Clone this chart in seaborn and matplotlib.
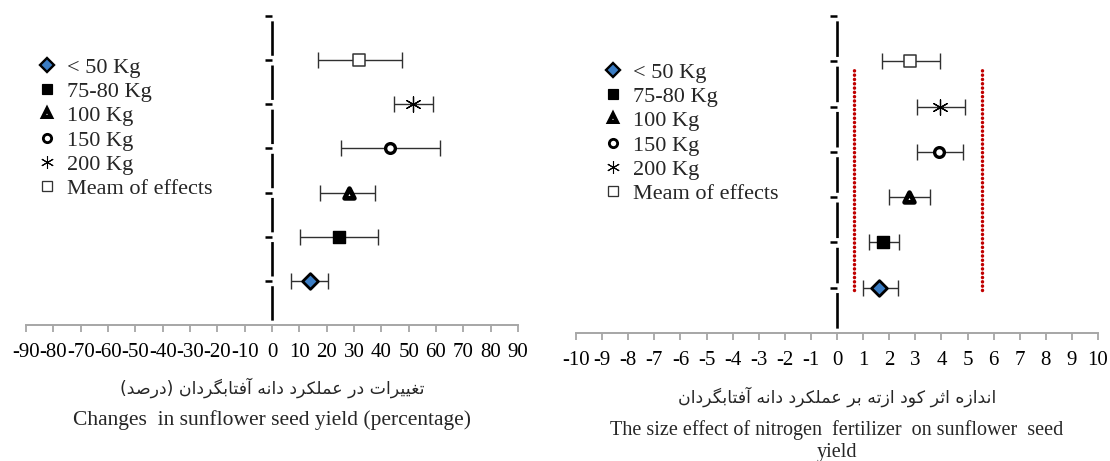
import matplotlib
matplotlib.use('Agg')
import matplotlib.pyplot as plt
from matplotlib.lines import Line2D
import pandas as pd
import seaborn as sns

# categories (bottom to top) and their row on the y axis
groups = ['< 50 Kg', '75-80 Kg', '100 Kg', '150 Kg', '200 Kg', 'Meam of effects']
rows = [1, 2, 3, 4, 5, 6]

# left panel: change in seed yield (%)
pct_mean = [13.9, 24.4, 28.0, 43.0, 51.5, 31.9]
pct_low = [7.1, 10.1, 17.7, 25.2, 44.7, 16.9]
pct_high = [20.5, 38.9, 37.8, 61.5, 58.8, 47.4]
pct_ticks = list(range(-90, 91, 10))

# right panel: effect size of nitrogen fertilizer
eff_mean = [1.62, 1.78, 2.74, 3.90, 3.96, 2.80]
eff_low = [0.99, 1.24, 1.98, 3.05, 3.05, 1.72]
eff_high = [2.33, 2.37, 3.55, 4.83, 4.92, 3.93]
eff_limits = [0.65, 5.55]
eff_limit_span = [0.96, 5.86]
eff_ticks = list(range(-10, 11))

left_fa = 'تغییرات در عملکرد دانه آفتابگردان (درصد)'
left_en = 'Changes  in sunflower seed yield (percentage)'
right_fa = 'اندازه اثر کود ازته بر عملکرد دانه آفتابگردان'
right_en = 'The size effect of nitrogen  fertilizer  on sunflower  seed\nyield'

# marker look per group
styles = {
    '< 50 Kg': dict(marker='D', size=8.0, face='#3b7dc4', edge='black', ew=2.0),
    '75-80 Kg': dict(marker='s', size=8.0, face='black', edge='black', ew=1.0),
    '100 Kg': dict(marker='^', size=7.0, face='white', edge='black', ew=3.4),
    '150 Kg': dict(marker='o', size=7.0, face='white', edge='black', ew=2.4),
    '200 Kg': dict(marker=(6, 2, 0), size=11.0, face='black', edge='black', ew=0.9),
    'Meam of effects': dict(marker='s', size=8.5, face='white', edge='#333333', ew=1.1),
}

# simple Persian shaping (matplotlib draws text left to right without joining)
FORMS = {
    'ا': ('\uFE8D', '\uFE8E', None, None), 'آ': ('\uFE81', '\uFE82', None, None),
    'ب': ('\uFE8F', '\uFE90', '\uFE91', '\uFE92'), 'ت': ('\uFE95', '\uFE96', '\uFE97', '\uFE98'),
    'ث': ('\uFE99', '\uFE9A', '\uFE9B', '\uFE9C'), 'د': ('\uFEA9', '\uFEAA', None, None),
    'ر': ('\uFEAD', '\uFEAE', None, None), 'ز': ('\uFEAF', '\uFEB0', None, None),
    'ص': ('\uFEB9', '\uFEBA', '\uFEBB', '\uFEBC'), 'ع': ('\uFEC9', '\uFECA', '\uFECB', '\uFECC'),
    'غ': ('\uFECD', '\uFECE', '\uFECF', '\uFED0'), 'ف': ('\uFED1', '\uFED2', '\uFED3', '\uFED4'),
    'ک': ('\uFB8E', '\uFB8F', '\uFB90', '\uFB91'), 'گ': ('\uFB92', '\uFB93', '\uFB94', '\uFB95'),
    'ل': ('\uFEDD', '\uFEDE', '\uFEDF', '\uFEE0'), 'م': ('\uFEE1', '\uFEE2', '\uFEE3', '\uFEE4'),
    'ن': ('\uFEE5', '\uFEE6', '\uFEE7', '\uFEE8'), 'ه': ('\uFEE9', '\uFEEA', '\uFEEB', '\uFEEC'),
    'و': ('\uFEED', '\uFEEE', None, None), 'ی': ('\uFBFC', '\uFBFD', '\uFBFE', '\uFBFF'),
}


def shape_fa(text):
    out = []
    for i, ch in enumerate(text):
        f = FORMS.get(ch)
        if f is None:
            out.append(ch)
            continue
        prev = FORMS.get(text[i - 1]) if i > 0 else None
        nxt = FORMS.get(text[i + 1]) if i + 1 < len(text) else None
        jp = prev is not None and prev[2] is not None
        jn = f[2] is not None and nxt is not None
        out.append(f[3] if jp and jn else f[1] if jp else f[2] if jn else f[0])
    mirror = {'(': ')', ')': '('}
    return ''.join(mirror.get(c, c) for c in reversed(out))


sns.set_theme(style='white')
plt.rcParams['font.family'] = ['Liberation Serif', 'DejaVu Sans']
plt.rcParams['axes.unicode_minus'] = False
plt.rcParams['lines.scale_dashes'] = False

W, H = 1110, 461
fig = plt.figure(figsize=(W / 100, H / 100), dpi=100)
# axes boxes in pixels: left, right, top, bottom
ax1 = fig.add_axes([26 / W, 1 - 325 / H, 492 / W, 309 / H])
ax2 = fig.add_axes([576 / W, 1 - 333 / H, 522 / W, 317 / H])


def draw_panel(ax, mean, low, high, ticks, legend_xy):
    df = pd.DataFrame({'group': groups, 'row': rows, 'mean': mean, 'low': low, 'high': high})
    ax.errorbar(df['mean'], df['row'], xerr=[df['mean'] - df['low'], df['high'] - df['mean']],
                fmt='none', ecolor='#303030', elinewidth=1.0, capsize=5.5, capthick=1.0, zorder=2)
    for g in groups:
        st = styles[g]
        sub = df[df['group'] == g]
        kw = dict(marker=st['marker'], s=st['size'] ** 2, color=st['face'], linewidth=st['ew'])
        if not isinstance(st['marker'], tuple):
            kw['edgecolor'] = st['edge']
        sns.scatterplot(data=sub, x='mean', y='row', ax=ax, legend=False, zorder=3, **kw)

    lo, hi = ticks[0], ticks[-1]
    ax.set_xlim(lo, hi)
    ax.set_ylim(0, 7)
    ax.set_xticks(ticks)
    ax.set_xticklabels([str(t) for t in ticks])
    ax.set_yticks(range(1, 8))
    ax.set_yticklabels([])
    ax.set_xlabel('')
    ax.set_ylabel('')
    for s in ('top', 'right'):
        ax.spines[s].set_visible(False)
    ax.spines['left'].set_position(('data', 0))
    ax.spines['left'].set_visible(False)
    ax.spines['bottom'].set_color('#a6a6a6')
    ax.spines['bottom'].set_linewidth(1.4)
    ax.tick_params(axis='x', direction='out', length=5, width=1.3, color='#a6a6a6',
                   labelsize=15, labelcolor='black', pad=8, bottom=True)
    ax.tick_params(axis='y', direction='out', length=5, width=1.8, color='black', left=True)

    # dashed zero line, gaps centred on the row ticks
    period = ax.get_position().height * H / 7 * 0.72
    gap = 7.0
    ax.axvline(0, color='black', lw=1.9, zorder=1,
               linestyle=(period - gap / 2, (period - gap, gap)))

    handles = [Line2D([], [], linestyle='none', marker=styles[g]['marker'],
                      markersize=styles[g]['size'] * 0.85,
                      markerfacecolor=styles[g]['face'], markeredgecolor=styles[g]['edge'],
                      color=styles[g]['edge'], markeredgewidth=styles[g]['ew'] * 0.85)
               for g in groups]
    ax.legend(handles, groups, loc='upper left', bbox_to_anchor=legend_xy,
              bbox_transform=fig.transFigure, frameon=False, fontsize=16,
              handlelength=1.0, handletextpad=0.4, labelspacing=0.17,
              borderpad=0, borderaxespad=0)


draw_panel(ax1, pct_mean, pct_low, pct_high, pct_ticks, (36 / W, 1 - 57 / H))
draw_panel(ax2, eff_mean, eff_low, eff_high, eff_ticks, (602 / W, 1 - 62 / H))

ax2.vlines(eff_limits, eff_limit_span[0], eff_limit_span[1], colors='#c00000',
           linewidth=2.5, linestyles=[(0, (0.1, 3.0))], capstyle='round', zorder=1)

fig.text(272 / W, 1 - 388 / H, shape_fa(left_fa), ha='center', va='center', fontsize=12.5,
         family=['DejaVu Sans'])
fig.text(272 / W, 1 - 420 / H, left_en, ha='center', va='center', fontsize=15.5)
fig.text(837 / W, 1 - 397 / H, shape_fa(right_fa), ha='center', va='center', fontsize=12.5,
         family=['DejaVu Sans'])
fig.text(837 / W, 1 - 441 / H, right_en, ha='center', va='center', fontsize=14.5,
         linespacing=1.25)

fig.savefig('out.png', dpi=100)
